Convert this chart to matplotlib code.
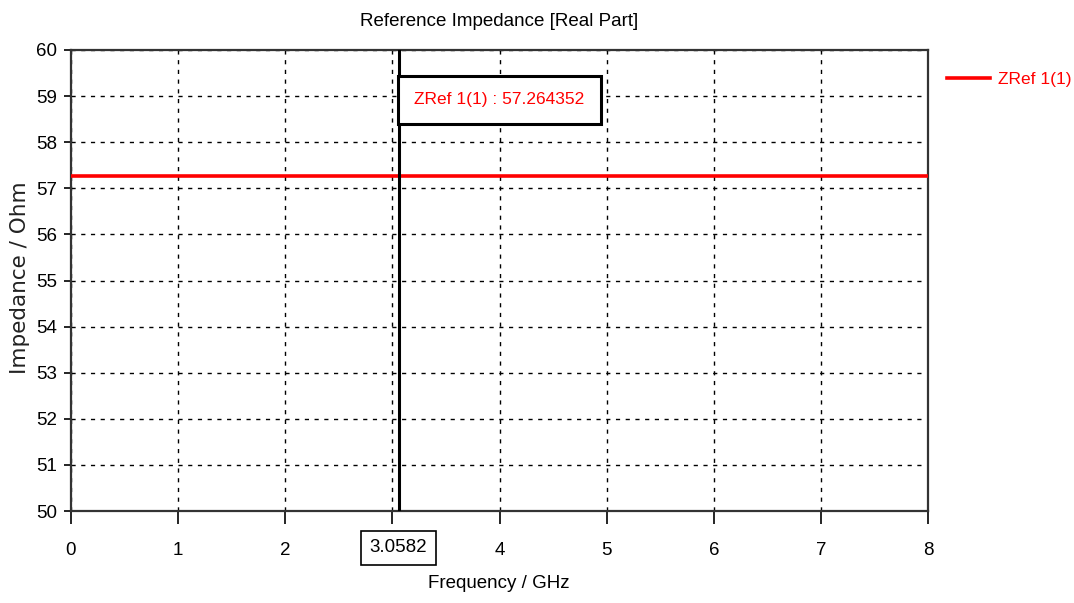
import numpy as np
import matplotlib
matplotlib.use("Agg")
import matplotlib.pyplot as plt

plt.rcParams['font.family'] = ['Liberation Sans', 'DejaVu Sans']

# reference impedance, real part (constant over band)
freq_ghz = np.array([0.0, 8.0])
zref_ohm = np.array([57.264352, 57.264352])
series_name = "ZRef 1(1)"
marker_freq = 3.0582
marker_value = 57.264352

x_ticks = [0, 1, 2, 3, 4, 5, 6, 7, 8]
y_ticks = [50, 51, 52, 53, 54, 55, 56, 57, 58, 59, 60]

W, H = 1074, 603
fs = 13.5

fig = plt.figure(figsize=(W / 100, H / 100), dpi=100)
ax = fig.add_axes([71 / W, 1 - 511 / H, 857 / W, 461 / H])

ax.plot(freq_ghz, zref_ohm, color='#ff0000', lw=2.6, zorder=3, label=series_name)
ax.axvline(marker_freq, color='black', lw=2.2, zorder=4)

ax.set_xlim(0, 8)
ax.set_ylim(50, 60)
ax.set_xticks(x_ticks)
ax.set_yticks(y_ticks)
ax.grid(True, color='black', ls=(0, (3, 4)), lw=1.0)
for s in ax.spines.values():
    s.set_color('#333333')
    s.set_linewidth(1.6)
ax.tick_params(axis='y', direction='out', length=5, width=1.2, colors='black',
               labelsize=fs, pad=5)
ax.tick_params(axis='x', direction='out', length=9, width=1.2, colors='black',
               labelsize=fs, pad=13)

# marker value box
ax.text(4.0, 58.92, f"{series_name} : {marker_value:.6f}", color='#ff0000',
        fontsize=12.5, ha='center', va='center', zorder=6,
        bbox=dict(boxstyle='square,pad=0.95', fc='white', ec='black', lw=2.2))

# marker frequency box under the x axis
fig.text((71 + marker_freq / 8 * 857) / W, 1 - 548 / H, f"{marker_freq:.4f}",
         ha='center', va='center', fontsize=fs, color='black',
         bbox=dict(boxstyle='square,pad=0.45', fc='white', ec='black', lw=1.2))
# tick label at 3 sits under the marker box
ax.get_xticklabels()[3].set_visible(False)

fig.text(499 / W, 1 - 21 / H, "Reference Impedance [Real Part]", fontsize=fs,
         ha='center', va='center')
fig.text(499 / W, 1 - 583 / H, "Frequency / GHz", fontsize=fs,
         ha='center', va='center')
fig.text(20 / W, 1 - 278 / H, "Impedance / Ohm", fontsize=15.5, rotation=90,
         family=['DejaVu Sans'], color='#222222', ha='center', va='center')

leg = fig.legend(loc='center left', bbox_to_anchor=(947 / W, 1 - 79 / H), frameon=False,
                 fontsize=12.5, handlelength=2.5, handletextpad=0.45, borderaxespad=0,
                 borderpad=0)
for t in leg.get_texts():
    t.set_color('#ff0000')

fig.savefig("out.png", dpi=100, facecolor='white')
